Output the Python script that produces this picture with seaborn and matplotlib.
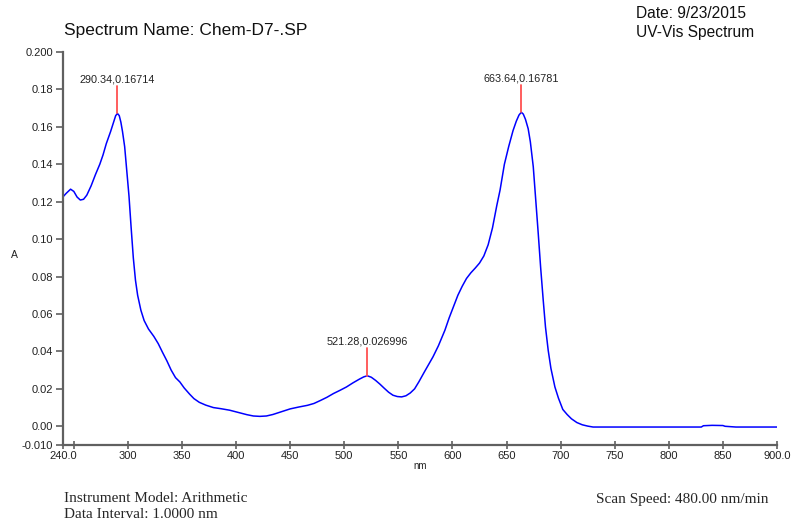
import numpy as np
import pandas as pd
import seaborn as sns
import matplotlib
matplotlib.use("Agg")
import matplotlib.pyplot as plt

# wavelength (nm) and absorbance
wavelength = [240, 243, 247, 250, 253, 256, 259, 262, 266, 270, 274, 277, 280, 284, 287,
              288.7, 290.34, 292, 293.5, 295, 297, 299, 301, 303, 305, 307, 309, 312, 315, 319, 324, 328,
              332, 336, 340, 344, 348, 352, 357, 361, 366, 372, 379, 386, 394, 402, 410,
              416, 422, 428, 434, 442, 450, 458, 466, 472, 478, 484, 490, 496, 502, 508,
              514, 518, 521.28, 525, 529, 533, 537, 541, 545, 549, 553, 557, 561, 565, 569,
              574, 578, 582, 587, 593, 597, 601, 605, 609, 613, 617, 621, 625, 629, 633,
              637, 641, 644, 648, 652, 656, 659, 661.5, 663.64, 665.5, 667.5, 670, 672, 674.7, 677, 679.3,
              681.5, 683.9, 686, 688.5, 691, 694.7, 698, 702, 706, 710, 715, 720, 725, 730,
              760, 800, 830, 832, 840, 850, 852, 862, 880, 900]
absorbance = [0.1226, 0.1245, 0.1267, 0.1255, 0.1225, 0.1209, 0.1213, 0.1235, 0.1285, 0.1345,
              0.1400, 0.1450, 0.1510, 0.1575, 0.1630, 0.1660, 0.16714, 0.1660, 0.1625, 0.1575,
              0.1494, 0.1360,
              0.1230, 0.1060, 0.0900, 0.0780, 0.0700, 0.0620, 0.0565, 0.0520, 0.0480, 0.0442,
              0.0395, 0.0350, 0.0300, 0.0260, 0.0237, 0.0205, 0.0172, 0.0148, 0.0128, 0.0113,
              0.0100, 0.0094, 0.0086, 0.0074, 0.0062, 0.0055, 0.0053, 0.0055, 0.0063, 0.0078,
              0.0093, 0.0103, 0.0112, 0.0122, 0.0138, 0.0155, 0.0175, 0.0192, 0.0210, 0.0232,
              0.0252, 0.0264, 0.026996, 0.0262, 0.0245, 0.0225, 0.0203, 0.0182, 0.0166, 0.0159,
              0.0157, 0.0163, 0.0178, 0.0200, 0.0238, 0.0290, 0.0330, 0.0371, 0.0430, 0.0513,
              0.0580, 0.0640, 0.0700, 0.0748, 0.0790, 0.0820, 0.0845, 0.0872, 0.0910, 0.0970,
              0.1060, 0.1180, 0.1262, 0.1400, 0.1495, 0.1580, 0.1630, 0.1663, 0.16781, 0.1668,
              0.1640, 0.1590,
              0.1520, 0.1387, 0.1210, 0.1030, 0.0850, 0.0674, 0.0530, 0.0406, 0.0310, 0.0210,
              0.0150, 0.0090, 0.0063, 0.0040, 0.0020, 0.0008, 0.0001, -0.0004,
              -0.0004, -0.0004, -0.0004, 0.0003, 0.0005, 0.0004, 0.0000, -0.0004, -0.0004, -0.0004]

peak_nm = [290.34, 521.28, 663.64]
peak_abs = [0.16714, 0.026996, 0.16781]

x_ticks = [240, 250, 300, 350, 400, 450, 500, 550, 600, 650, 700, 750, 800, 850, 900]
x_labels = ["240.0", "", "300", "350", "400", "450", "500", "550", "600", "650",
            "700", "750", "800", "850", "900.0"]
y_ticks = [-0.010, 0.00, 0.02, 0.04, 0.06, 0.08, 0.10, 0.12, 0.14, 0.16, 0.18, 0.200]
y_labels = ["-0.010", "0.00", "0.02", "0.04", "0.06", "0.08", "0.10", "0.12", "0.14",
            "0.16", "0.18", "0.200"]

sns.set_style("ticks")
plt.rcParams['font.family'] = ['Liberation Sans', 'DejaVu Sans']

W, H = 791, 523
fig = plt.figure(figsize=(W / 100, H / 100), dpi=100)
ax = fig.add_axes([63 / W, 1 - 445 / H, (777 - 63) / W, (445 - 52) / H])

df = pd.DataFrame({"nm": wavelength, "A": absorbance})
sns.lineplot(data=df, x="nm", y="A", ax=ax, color="#0000ff", lw=1.1, sort=True)

# peak markers
for px, py in zip(peak_nm, peak_abs):
    ax.plot([px, px], [py, py + 0.0147], color="#ff5050", lw=1.3)
    ax.text(px, py + 0.0156, f"{px:.2f},{py:g}", ha="center", va="bottom",
            fontsize=7.8, color="#222222")

ax.set_xlim(240, 900)
ax.set_ylim(-0.010, 0.200)
ax.set_xticks(x_ticks)
ax.set_xticklabels(x_labels)
ax.set_yticks(y_ticks)
ax.set_yticklabels(y_labels)
ax.set_xlabel("")
ax.set_ylabel("")
for s in ["top", "right"]:
    ax.spines[s].set_visible(False)
for s in ["left", "bottom"]:
    ax.spines[s].set_color("#606060")
    ax.spines[s].set_linewidth(1.6)
ax.tick_params(axis="x", direction="inout", length=6, width=1.2, color="#606060",
               labelsize=8, pad=1, labelcolor="#222222")
ax.tick_params(axis="y", direction="out", length=5, width=1.2, color="#606060",
               labelsize=8, pad=2, labelcolor="#222222")

fig.text(14 / W, 1 - 255 / H, "A", fontsize=7.5, ha="center", va="center", color="#222222")
fig.text(420 / W, 1 - 466 / H, "nm", fontsize=7, ha="center", va="center", color="#222222")

fig.text(64 / W, 1 - 31 / H, "Spectrum Name: Chem-D7-.SP", fontsize=12.5, ha="left",
         va="center", color="#111111")
fig.text(636 / W, 1 - 14 / H, "Date: 9/23/2015", fontsize=11.2, ha="left",
         va="center", color="#111111")
fig.text(636 / W, 1 - 32 / H, "UV-Vis Spectrum", fontsize=11.2, ha="left",
         va="center", color="#111111")

serif = ['Liberation Serif', 'DejaVu Serif']
fig.text(64 / W, 1 - 499 / H, "Instrument Model: Arithmetic", fontsize=11,
         family=serif, ha="left", va="center")
fig.text(64 / W, 1 - 514 / H, "Data Interval: 1.0000 nm", fontsize=11,
         family=serif, ha="left", va="center")
fig.text(769 / W, 1 - 499 / H, "Scan Speed: 480.00 nm/min", fontsize=11,
         family=serif, ha="right", va="center")

fig.savefig("out.png", dpi=100)
